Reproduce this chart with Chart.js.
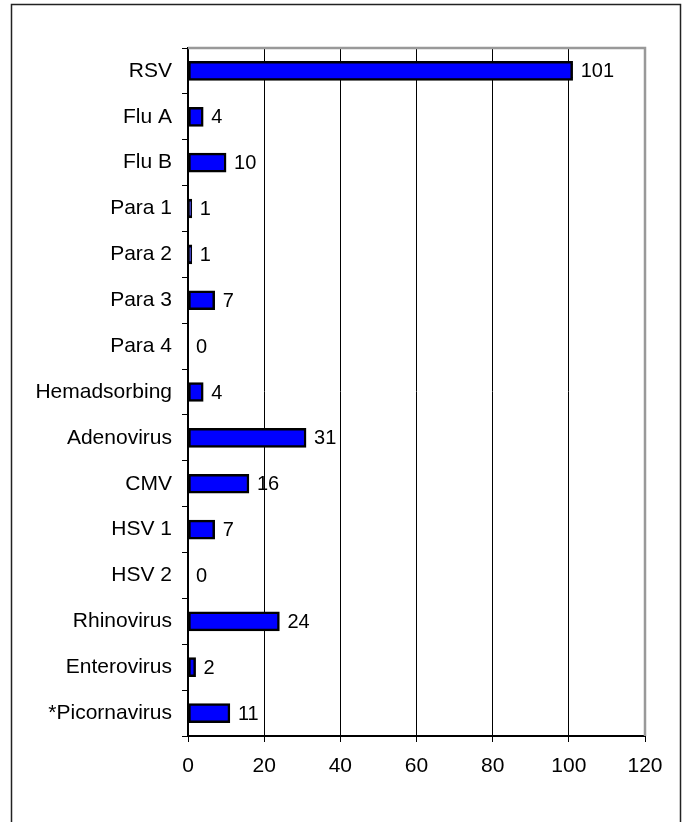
<!DOCTYPE html>
<html lang="en">
<head>
    <meta charset="UTF-8">
    <title>Virus isolates</title>
    <script src="https://cdn.jsdelivr.net/npm/chart.js@4.4.2/dist/chart.umd.min.js"></script>
    <style>
        body { margin: 0; background: #fff; }
    </style>
</head>
<body>

    <canvas id="viruschart" width="684" height="822"></canvas>

    <script>

        const viruses = ['RSV', 'Flu A', 'Flu B', 'Para 1', 'Para 2', 'Para 3', 'Para 4',
            'Hemadsorbing', 'Adenovirus', 'CMV', 'HSV 1', 'HSV 2', 'Rhinovirus',
            'Enterovirus', '*Picornavirus'];
        const counts = [101, 4, 10, 1, 1, 7, 0, 4, 31, 16, 7, 0, 24, 2, 11];
        const xTicks = [0, 20, 40, 60, 80, 100, 120];

        const fontFamily = '"Liberation Sans", Arial, sans-serif';

        // frame round the whole chart + grey top/right edge of the plot
        const framePlugin = {
            id: 'frame',
            beforeDraw(chart) {
                const c = chart.ctx;
                c.save();
                c.fillStyle = '#fff';
                c.fillRect(0, 0, chart.width, chart.height);
                c.strokeStyle = '#222';
                c.lineWidth = 1.5;
                c.strokeRect(11.5, 4.5, 669, 900);
                c.restore();
            },
            afterDraw(chart) {
                const a = chart.chartArea;
                const c = chart.ctx;
                c.save();
                c.strokeStyle = '#999';
                c.lineWidth = 2.5;
                c.beginPath();
                c.moveTo(a.left, a.top);
                c.lineTo(a.right, a.top);
                c.lineTo(a.right, a.bottom);
                c.stroke();
                c.restore();
            }
        };

        // numbers at the end of each bar
        const valuePlugin = {
            id: 'values',
            afterDatasetsDraw(chart) {
                const c = chart.ctx;
                const meta = chart.getDatasetMeta(0);
                c.save();
                c.fillStyle = '#000';
                c.font = '20px ' + fontFamily;
                c.textBaseline = 'middle';
                c.textAlign = 'left';
                meta.data.forEach((bar, i) => {
                    c.fillText(String(counts[i]), bar.x + 8, bar.y + 1);
                });
                c.restore();
            }
        };

        const ctx = document.getElementById('viruschart');

        new Chart(ctx, {
            type: 'bar',
            data: {
                labels: viruses,
                datasets: [{
                    data: counts,
                    backgroundColor: '#0000ff',
                    borderColor: '#000',
                    borderWidth: 2.5,
                    borderSkipped: false,
                    barThickness: 19
                }]
            },
            options: {
                indexAxis: 'y',
                responsive: false,
                animation: false,
                layout: { padding: { top: 48, right: 39, left: 0, bottom: 0 } },
                plugins: {
                    legend: { display: false },
                    tooltip: { enabled: false }
                },
                scales: {
                    x: {
                        min: 0,
                        max: 120,
                        afterFit(scale) { scale.height = 86; },
                        afterBuildTicks(scale) {
                            scale.ticks = xTicks.map(v => ({ value: v }));
                        },
                        grid: {
                            color: '#000',
                            lineWidth: 1,
                            tickLength: 6
                        },
                        border: { color: '#000', width: 2 },
                        ticks: {
                            color: '#000',
                            padding: 12,
                            font: { size: 21, family: fontFamily }
                        }
                    },
                    y: {
                        afterFit(scale) { scale.width = 188; },
                        grid: {
                            drawOnChartArea: false,
                            color: '#000',
                            tickLength: 6,
                            offset: true
                        },
                        border: { color: '#000', width: 2 },
                        ticks: {
                            color: '#000',
                            padding: 10,
                            font: { size: 21, family: fontFamily }
                        }
                    }
                }
            },
            plugins: [framePlugin, valuePlugin]
        });
    </script>
</body>
</html>
